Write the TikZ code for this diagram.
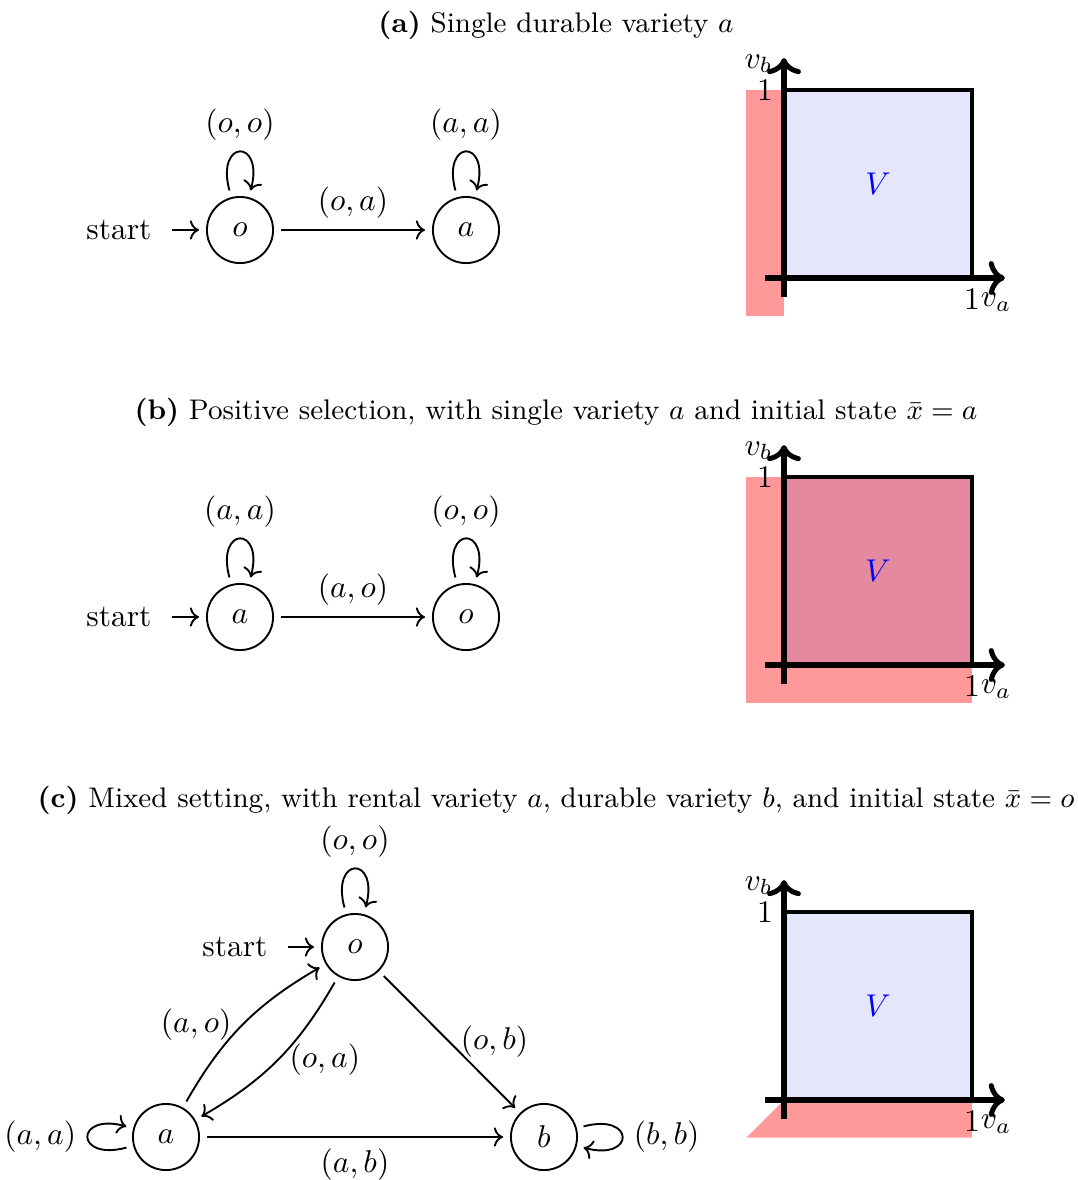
\documentclass[tikz,border=0pt]{standalone}
\usetikzlibrary{arrows.meta}
\definecolor{regred}{RGB}{255,153,153}
\definecolor{boxblue}{RGB}{229,229,251}
\definecolor{boxpink}{RGB}{229,137,160}
\begin{document}
\begin{tikzpicture}[x=0.3175pt,y=-0.3175pt,
  st/.style={circle,draw,line width=0.6pt,minimum size=21pt,inner sep=0pt,outer sep=2.5pt},
  tr/.style={->,line width=0.6pt},
  every loop/.style={looseness=6.5},
  axisline/.style={->,line width=1.6pt},
  boxline/.style={line width=1pt},
  captext/.style={inner sep=0pt,font=\small}]
\useasboundingbox (0,0) rectangle (1078,1180);

% ---------- (a) ----------
\node[captext] (capa) at (556,25) {\textbf{(a)} Single durable variety $a$};
\node[st] (o1) at (240,230) {$o$};
\node[st] (a1) at (466,230) {$a$};
\node[anchor=east,inner sep=0pt] (s1) at (152,230) {start};
\coordinate (s1a) at (172,230);
\draw[tr] (s1a) -- (o1);
\draw[tr] (o1) edge[loop above] node {$(o,o)$} (o1);
\draw[tr] (a1) edge[loop above] node {$(a,a)$} (a1);
\draw[tr] (o1) -- node[above] {$(o,a)$} (a1);

\begin{scope}[shift={(784,278)},x=59.69pt,y=59.69pt]
  \fill[regred] (-0.2,-0.2) rectangle (0,1);
  \filldraw[fill=boxblue,boxline] (0,0) rectangle (1,1);
  \draw[axisline] (-0.1,0) -- (1.175,0);
  \draw[axisline] (0,-0.1) -- (0,1.17);
  \node[left] (ya1) at (0,1) {$1$};
  \node[below] (xa1) at (1,0) {$1$};
  \node (va1) at (1.128,-0.128) {$v_a$};
  \node (vb1) at (-0.135,1.14) {$v_b$};
  \node[text=blue] (V1) at (0.5,0.5) {$V$};
\end{scope}

% ---------- (b) ----------
\node[captext] (capb) at (556,412) {\textbf{(b)} Positive selection, with single variety $a$ and initial state $\bar{x}=a$};
\node[st] (a2) at (240,617) {$a$};
\node[st] (o2) at (466,617) {$o$};
\node[anchor=east,inner sep=0pt] (s2) at (152,617) {start};
\coordinate (s2a) at (172,617);
\draw[tr] (s2a) -- (a2);
\draw[tr] (a2) edge[loop above] node {$(a,a)$} (a2);
\draw[tr] (o2) edge[loop above] node {$(o,o)$} (o2);
\draw[tr] (a2) -- node[above] {$(a,o)$} (o2);

\begin{scope}[shift={(784,665)},x=59.69pt,y=59.69pt]
  \fill[regred] (-0.2,-0.2) rectangle (1,1);
  \filldraw[fill=boxpink,boxline] (0,0) rectangle (1,1);
  \draw[axisline] (-0.1,0) -- (1.175,0);
  \draw[axisline] (0,-0.1) -- (0,1.17);
  \node[left] (ya2) at (0,1) {$1$};
  \node[below] (xa2) at (1,0) {$1$};
  \node (va2) at (1.128,-0.128) {$v_a$};
  \node (vb2) at (-0.135,1.14) {$v_b$};
  \node[text=blue] (V2) at (0.5,0.5) {$V$};
\end{scope}

% ---------- (c) ----------
\node[captext] (capc) at (556,800) {\textbf{(c)} Mixed setting, with rental variety $a$, durable variety $b$, and initial state $\bar{x}=o$};
\node[st] (o3) at (355,947) {$o$};
\node[st] (a3) at (166,1137) {$a$};
\node[st] (b3) at (544,1137) {$b$};
\node[anchor=east,inner sep=0pt] (s3) at (268,947) {start};
\coordinate (s3a) at (288,947);
\draw[tr] (s3a) -- (o3);
\draw[tr] (o3) edge[loop above] node {$(o,o)$} (o3);
\draw[tr] (a3) edge[loop left] node {$(a,a)$} (a3);
\draw[tr] (b3) edge[loop right] node {$(b,b)$} (b3);
\draw[tr] (a3) to[bend left=15] node[left] {$(a,o)$} (o3);
\draw[tr] (o3) to[bend left=15] node[right] {$(o,a)$} (a3);
\draw[tr] (o3) -- node[right] {$(o,b)$} (b3);
\draw[tr] (a3) -- node[below] {$(a,b)$} (b3);

\begin{scope}[shift={(784,1100)},x=59.69pt,y=59.69pt]
  \fill[regred] (-0.2,-0.2) -- (1,-0.2) -- (1,0) -- (0,0) -- cycle;
  \filldraw[fill=boxblue,boxline] (0,0) rectangle (1,1);
  \draw[axisline] (-0.1,0) -- (1.175,0);
  \draw[axisline] (0,-0.1) -- (0,1.17);
  \node[left] (ya3) at (0,1) {$1$};
  \node[below] (xa3) at (1,0) {$1$};
  \node (va3) at (1.128,-0.128) {$v_a$};
  \node (vb3) at (-0.135,1.14) {$v_b$};
  \node[text=blue] (V3) at (0.5,0.5) {$V$};
\end{scope}
\end{tikzpicture}
\end{document}
